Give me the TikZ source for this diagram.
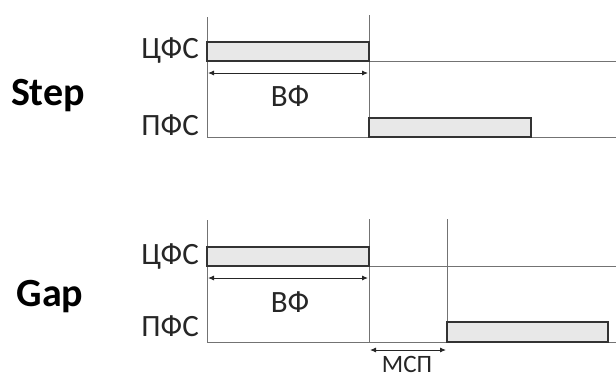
\documentclass[tikz,border=0pt]{standalone}
\usepackage{fontspec}
\setmainfont{Carlito}
\usetikzlibrary{arrows.meta}
\begin{document}
\begin{tikzpicture}[x=1pt,y=-1pt,
  axis/.style={draw=black!55, line width=0.9pt},
  bar/.style={draw=black!80, fill=black!9, line width=1.4pt},
  dim/.style={draw=black!85, line width=0.9pt, {Latex[length=6pt,width=5pt]}-{Latex[length=6pt,width=5pt]}},
  lbl/.style={font=\fontsize{31}{33}\selectfont, text=black!85, inner sep=0pt},
  ttl/.style={font=\fontsize{40}{42}\selectfont\bfseries, inner sep=0pt}]
\useasboundingbox (0,0) rectangle (616,378);

% ---------- Step ----------
\coordinate (s1t) at (207,17);  \coordinate (s1b) at (207,137);
\coordinate (s2t) at (369,15);  \coordinate (s2b) at (369,137);
\coordinate (shl) at (207,61);  \coordinate (shr) at (616,61);
\coordinate (sbl) at (207,137); \coordinate (sbr) at (616,137);
\draw[axis] (s1t) -- (s1b);
\draw[axis] (s2t) -- (s2b);
\draw[axis] (shl) -- (shr);
\draw[axis] (sbl) -- (sbr);
\draw[bar] (207,42) rectangle (369,61);
\draw[bar] (369,118) rectangle (531,137);
\coordinate (sa1) at (208,73); \coordinate (sa2) at (368,73);
\draw[dim] (sa1) -- (sa2);
\node[lbl, anchor=east] (scfs) at (199,51) {ЦФС};
\node[lbl, anchor=east] (spfs) at (199,125) {ПФС};
\node[lbl] (svf) at (290,96) {ВФ};
\node[ttl] (step) at (48,96) {Step};

% ---------- Gap ----------
\coordinate (g1t) at (207,220); \coordinate (g1b) at (207,342);
\coordinate (g2t) at (369,219); \coordinate (g2b) at (369,342);
\coordinate (g3t) at (447,219); \coordinate (g3b) at (447,342);
\coordinate (ghl) at (207,266); \coordinate (ghr) at (616,266);
\coordinate (gbl) at (207,342); \coordinate (gbr) at (616,342);
\draw[axis] (g1t) -- (g1b);
\draw[axis] (g2t) -- (g2b);
\draw[axis] (g3t) -- (g3b);
\draw[axis] (ghl) -- (ghr);
\draw[axis] (gbl) -- (gbr);
\draw[bar] (207,247) rectangle (369,266);
\draw[bar] (447,322) rectangle (608,342);
\coordinate (ga1) at (208,278); \coordinate (ga2) at (368,278);
\draw[dim] (ga1) -- (ga2);
\coordinate (gm1) at (370,350); \coordinate (gm2) at (446,350);
\draw[dim] (gm1) -- (gm2);
\node[lbl, anchor=base, font=\fontsize{25}{26}\selectfont] (gmsp) at (407,372) {МСП};
\node[lbl, anchor=east] (gcfs) at (199,257) {ЦФС};
\node[lbl, anchor=east] (gpfs) at (199,326) {ПФС};
\node[lbl] (gvf) at (290,302) {ВФ};
\node[ttl] (gap) at (50,297) {Gap};
\end{tikzpicture}
\end{document}
